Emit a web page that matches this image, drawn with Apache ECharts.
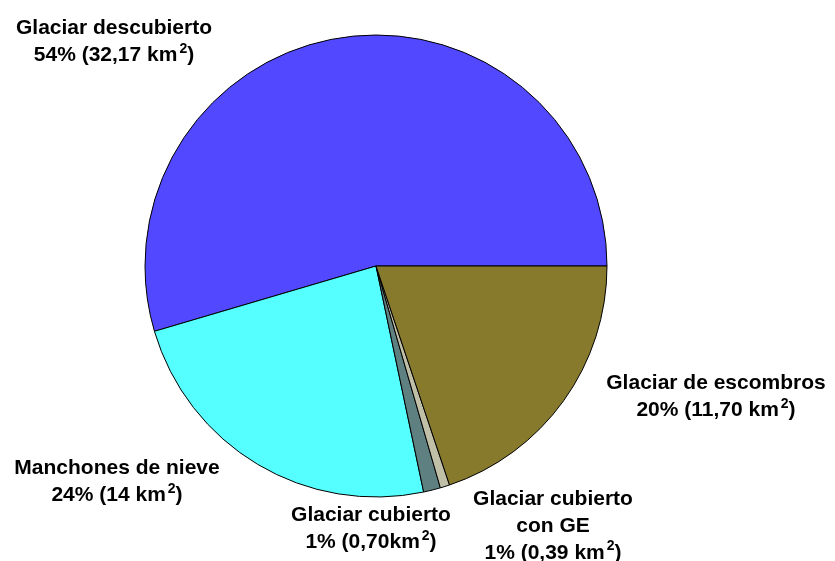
<!DOCTYPE html>
<html>
<head>
<meta charset="utf-8">
<script src="https://cdn.jsdelivr.net/npm/echarts@6/dist/echarts.min.js"></script>
<style>
  html, body { margin: 0; padding: 0; background: #fff; }
  #main { width: 835px; height: 561px; }
</style>
</head>
<body>
<div id="main"></div>
<script>
// datos (km2)
var categories = ['Glaciar descubierto', 'Manchones de nieve', 'Glaciar cubierto', 'Glaciar cubierto\ncon GE', 'Glaciar de escombros']
var areas = [32.17, 14, 0.70, 0.39, 11.70]
var areaText = ['32,17 km', '14 km', '0,70km', '0,39 km', '11,70 km']
var pctText = ['54%', '24%', '1%', '1%', '20%']
var colors = ['#5148FF', '#55FFFF', '#5F8080', '#C0BFA8', '#877A2D']
// posicion de cada etiqueta (centro del bloque)
var labelPos = [[114, 42], [117, 482], [371, 529], [553, 526], [716, 397]]

var myChart = echarts.init(document.getElementById('main'))

var option = {
  backgroundColor: '#fff',
  animation: false,
  series: [
    {
      type: 'pie',
      center: [376, 266],
      radius: 231,
      startAngle: 0,
      clockwise: false,
      avoidLabelOverlap: false,
      data: categories.map(function (c, i) {
        return { name: c, value: areas[i], itemStyle: { color: colors[i] } }
      }),
      itemStyle: { borderColor: '#000', borderWidth: 1 },
      label: {
        show: true,
        position: 'outside',
        color: '#000',
        formatter: function (p) {
          var lines = p.name.split('\n').map(function (l) { return '{t|' + l + '}' })
          lines.push('{t|' + pctText[p.dataIndex] + ' (' + areaText[p.dataIndex] + '}{s|2}{t|)}')
          return lines.join('\n')
        },
        rich: {
          t: {
            fontFamily: 'Liberation Sans',
            fontWeight: 'bold',
            fontSize: 21,
            lineHeight: 27,
            color: '#000'
          },
          s: {
            fontFamily: 'Liberation Sans',
            fontWeight: 'bold',
            fontSize: 14,
            lineHeight: 14,
            verticalAlign: 'top',
            padding: [0, 0, 0, 2],
            color: '#000'
          }
        }
      },
      labelLine: { show: false },
      labelLayout: function (p) {
        var pos = labelPos[p.dataIndex]
        return { x: pos[0], y: pos[1], align: 'center', verticalAlign: 'middle', hideOverlap: false }
      },
      emphasis: { disabled: true }
    }
  ]
}

myChart.setOption(option)
</script>
</body>
</html>
